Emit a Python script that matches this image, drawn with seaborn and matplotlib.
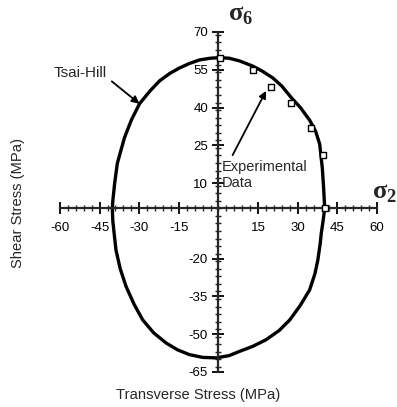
import numpy as np
import pandas as pd
import matplotlib
matplotlib.use("Agg")
import matplotlib.pyplot as plt
from matplotlib.ticker import MultipleLocator, FixedLocator
import seaborn as sns

# Tsai-Hill envelope (transverse, shear) in MPa
curve_x = [40.2, 39.8, 39.3, 38.3, 36.8, 34.5, 31, 27.5, 24, 20.5, 16.5, 12.9, 8, 4, 0.5,
           -3, -7.2, -11, -14.8, -18.5, -22.3, -26, -29.9, -33, -35.6, -37.2, -38.3, -39.3,
           -40, -40.2, -40, -39.5, -38.8, -37.2, -35, -32, -28.7, -24.5, -19.8, -15.5, -11,
           -6, -0.9, 4, 8, 13, 18, 23, 27, 31, 34.5, 36.5, 37.6, 38.5, 38.9, 39.6, 40.2]
curve_y = [0, 8, 16, 25.5, 30.5, 35, 40, 44, 48.5, 51.8, 54.5, 56.5, 58.5, 59.6, 59.8,
           59.6, 58.9, 57.5, 55.7, 53.5, 50.6, 46.5, 41.5, 35, 28, 22, 17.8, 10,
           3, 0, -5, -10, -16.6, -24, -31, -38, -44.3, -49.5, -53.5, -56.2, -58.1,
           -59.2, -59.4, -58.5, -56.8, -54.8, -52.2, -48.5, -44.3, -38.5, -32.4, -26, -20.6, -14, -10, -5, 0]

# experimental points
exp_x = [0.5, 13, 20, 27.5, 35, 39.5, 40.2]
exp_y = [59.6, 55, 48, 42, 32, 21, 0]

x_ticks = [-60, -45, -30, -15, 15, 30, 45, 60]
y_ticks = [70, 55, 40, 25, 10, -20, -35, -50, -65]

sns.set_style("ticks")
plt.rcParams["font.family"] = ["Liberation Sans", "DejaVu Sans"]
plt.rcParams["axes.unicode_minus"] = False
plt.rcParams["mathtext.fontset"] = "custom"
plt.rcParams["mathtext.rm"] = "Liberation Serif"
plt.rcParams["mathtext.bf"] = "Liberation Serif:bold"

fig = plt.figure(figsize=(3.97, 4.07), dpi=100)
ax = fig.add_axes([0.1511, 0.086, 0.7985, 0.8354])

curve = pd.DataFrame({"x": curve_x, "y": curve_y})
sns.lineplot(data=curve, x="x", y="y", sort=False, estimator=None, color="black",
             linewidth=2.4, ax=ax)
pts = pd.DataFrame({"x": exp_x, "y": exp_y})
sns.scatterplot(data=pts, x="x", y="y", marker="s", s=20, facecolor="white",
                edgecolor="black", linewidth=1.0, ax=ax, zorder=5)

ax.set_xlim(-60, 60)
ax.set_ylim(-65, 70)
for side in ["top", "right"]:
    ax.spines[side].set_visible(False)
ax.spines["left"].set_position(("data", 0))
ax.spines["bottom"].set_position(("data", 0))
ax.spines["left"].set_linewidth(1.6)
ax.spines["bottom"].set_linewidth(1.6)

ax.xaxis.set_major_locator(FixedLocator(x_ticks))
ax.yaxis.set_major_locator(FixedLocator(y_ticks))
ax.xaxis.set_minor_locator(MultipleLocator(3))
ax.yaxis.set_minor_locator(MultipleLocator(3))
ax.tick_params(which="major", direction="inout", length=8, width=1.3, labelsize=9.5,
               colors="black")
ax.tick_params(which="minor", direction="inout", length=4, width=1)
ax.tick_params(axis="x", pad=6)
ax.set_xlabel("")
ax.set_ylabel("")

fig.text(0.5, 0.03, "Transverse Stress (MPa)", ha="center", va="center", fontsize=10.6)
fig.text(0.045, 0.5, "Shear Stress (MPa)", ha="center", va="center", rotation=90, fontsize=10.6)
fig.text(0.605, 0.962, r"$\mathbf{σ}_\mathbf{6}$", ha="center", va="center", fontsize=19)
fig.text(0.999, 0.525, r"$\mathbf{σ}_\mathbf{2}$", ha="right", va="center", fontsize=19)

ax.annotate("Tsai-Hill", xy=(-29.9, 41.5), xytext=(-52.5, 53.8), ha="center", va="center",
            fontsize=11, arrowprops=dict(arrowstyle="-|>", color="black", lw=1.3,
                                         shrinkA=2, shrinkB=0, relpos=(1.0, 0.2)))
ax.annotate("Experimental\nData", xy=(18, 46.6), xytext=(1.2, 13.2), ha="left", va="center",
            fontsize=10.5, linespacing=1.25,
            arrowprops=dict(arrowstyle="-|>", color="black", lw=1.3, shrinkA=1, shrinkB=0,
                            relpos=(0.1, 1.0)))

fig.savefig("out.png", dpi=100)
